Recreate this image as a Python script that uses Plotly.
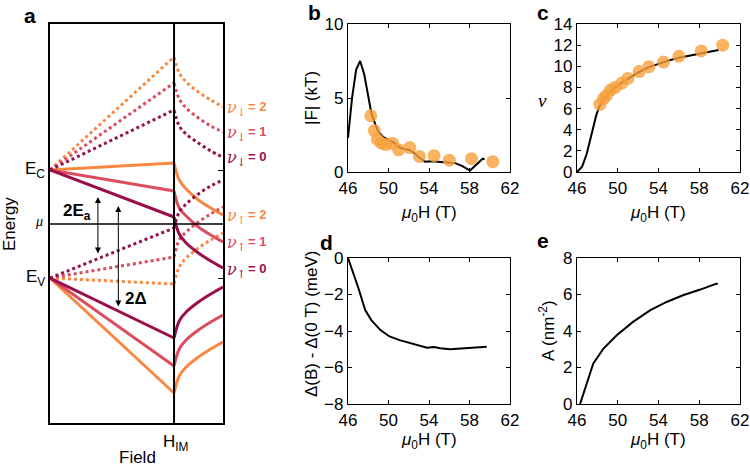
import plotly.graph_objects as go

# ---------------- data ----------------
# panel a (schematic): energies at the start point, at H_IM and along the curve beyond H_IM
xa_left = [0.0, 0.717]
xa_right = [0.717, 0.747, 0.787, 0.858, 0.929, 1.0]
E_C = 54
E_V = -54

cond_solid_mid = {"orange": 61, "pink": 33, "maroon": 7}
cond_solid_right = {"orange": [61, 44, 35, 24, 16, 9],
                    "pink": [33, 16, 8, -3, -11, -18],
                    "maroon": [7, -10, -19, -29, -37, -44]}
cond_dot_mid = {"orange": 167, "pink": 141, "maroon": 114}
cond_dot_right = {"orange": [167, 151, 142, 132, 124, 117],
                  "pink": [141, 125, 116, 106, 98, 92],
                  "maroon": [114, 98, 90, 81, 73, 67]}
val_dot_mid = {"orange": -60, "pink": -33, "maroon": -4}
val_dot_right = {"orange": [-60, -43, -34, -24, -16, -9],
                 "pink": [-33, -16, -8, 2, 10, 17],
                 "maroon": [-4, 12, 20, 30, 38, 44]}
val_solid_mid = {"orange": -169, "pink": -142, "maroon": -114}
val_solid_right = {"orange": [-169, -152, -143, -133, -125, -118],
                   "pink": [-142, -125, -116, -106, -98, -91],
                   "maroon": [-114, -97, -88, -78, -70, -63]}
nu_value = {"orange": "2", "pink": "1", "maroon": "0"}

arrow_Ea = [0.277, 27, -31]      # x, top, bottom
arrow_D = [0.395, 18, -84]

# panel b
b_line_x = [46.0, 46.4, 46.8, 47.2, 47.6, 48.0, 48.3, 48.7, 49.0, 49.5, 50.0, 50.5, 51.0, 51.5, 52.0,
            52.5, 53.0, 53.6, 54.2, 55.2, 55.8, 56.6, 57.3, 58.05, 58.7, 59.3, 59.5]
b_line_y = [2.3, 5.0, 6.9, 7.5, 6.6, 5.0, 4.0, 3.2, 2.7, 2.35, 2.2, 2.0, 1.7, 1.55, 1.5,
            1.3, 1.0, 0.7, 0.72, 0.7, 0.65, 0.6, 0.4, 0.1, 0.5, 0.9, 0.85]
pts_x = [48.25, 48.6, 48.9, 49.3, 49.75, 50.4, 51.0, 52.1, 53.05, 54.5, 56.0, 58.2, 60.3]
b_pts_y = [3.8, 2.8, 2.2, 1.95, 1.85, 1.95, 1.5, 1.65, 1.05, 1.1, 0.8, 0.9, 0.7]

# panel c
c_line_x = [46.0, 46.2, 46.5, 46.95, 47.4, 47.9, 48.2, 48.6, 49.0, 49.5, 50.0, 51.0, 52.0, 53.0,
            54.0, 55.0, 56.0, 57.0, 58.0, 59.0, 59.9]
c_line_y = [0.0, 0.2, 0.5, 1.7, 3.5, 5.4, 6.2, 6.8, 7.3, 7.8, 8.2, 8.8, 9.4, 9.9,
            10.25, 10.55, 10.8, 11.0, 11.2, 11.35, 11.55]
c_pts_y = [6.4, 6.95, 7.25, 7.75, 8.0, 8.4, 8.85, 9.5, 9.95, 10.4, 10.95, 11.45, 12.0]

# panel d
d_x = [46.0, 46.4, 47.0, 47.7, 48.3, 49.2, 50.1, 51.1, 52.5, 53.8, 54.5, 55.1, 56.1, 57.0, 58.0, 59.0, 59.7]
d_y = [0.0, -0.6, -1.6, -2.85, -3.4, -3.95, -4.3, -4.5, -4.72, -4.92, -4.88, -4.95, -5.0, -4.97, -4.92, -4.9, -4.86]

# panel e
e_x = [46.3, 46.95, 47.6, 48.6, 49.9, 51.5, 53.2, 54.8, 56.4, 58.1, 59.7, 59.8]
e_y = [0.0, 1.13, 2.22, 3.04, 3.77, 4.5, 5.14, 5.59, 5.96, 6.27, 6.6, 6.55]

# ---------------- style ----------------
col = {"orange": "#F98740", "pink": "#DA4C5E", "maroon": "#9A0E4C"}
dot_col = "rgba(248,160,60,0.8)"
FONT = "Liberation Sans, Arial, sans-serif"
W = 750
H = 467


def px(v):
    return v / W


def py(v):
    return 1 - v / H


fig = go.Figure()

# panel a traces
for k in ["orange", "pink", "maroon"]:
    for mid, right, start, dash in [(cond_solid_mid, cond_solid_right, E_C, "solid"),
                                    (cond_dot_mid, cond_dot_right, E_C, "3px,3px"),
                                    (val_dot_mid, val_dot_right, E_V, "3px,3px"),
                                    (val_solid_mid, val_solid_right, E_V, "solid")]:
        fig.add_trace(go.Scatter(x=xa_left, y=[start, mid[k]], mode="lines",
                                 line=dict(color=col[k], width=3, dash=dash),
                                 xaxis="x6", yaxis="y6"))
        fig.add_trace(go.Scatter(x=xa_right, y=right[k], mode="lines",
                                 line=dict(color=col[k], width=3, dash=dash, shape="spline", smoothing=1),
                                 xaxis="x6", yaxis="y6"))

# H_IM vertical line and mu line
fig.add_trace(go.Scatter(x=[0.717, 0.717], y=[-199, 200], mode="lines",
                         line=dict(color="black", width=2), xaxis="x6", yaxis="y6"))
fig.add_trace(go.Scatter(x=[0, 1], y=[0, 0], mode="lines",
                         line=dict(color="black", width=1.5), xaxis="x6", yaxis="y6"))

# panels b-e
fig.add_trace(go.Scatter(x=b_line_x, y=b_line_y, mode="lines", line=dict(color="black", width=2),
                         xaxis="x", yaxis="y"))
fig.add_trace(go.Scatter(x=pts_x, y=b_pts_y, mode="markers",
                         marker=dict(color=dot_col, size=13), xaxis="x", yaxis="y"))
fig.add_trace(go.Scatter(x=c_line_x, y=c_line_y, mode="lines", line=dict(color="black", width=2),
                         xaxis="x2", yaxis="y2"))
fig.add_trace(go.Scatter(x=pts_x, y=c_pts_y, mode="markers",
                         marker=dict(color=dot_col, size=13), xaxis="x2", yaxis="y2"))
fig.add_trace(go.Scatter(x=d_x, y=d_y, mode="lines", line=dict(color="black", width=2),
                         xaxis="x3", yaxis="y3"))
fig.add_trace(go.Scatter(x=e_x, y=e_y, mode="lines", line=dict(color="black", width=2),
                         xaxis="x4", yaxis="y4"))

ax_common = dict(showline=True, linecolor="black", linewidth=1.3, mirror="allticks", ticks="inside",
                 ticklen=4, tickcolor="black", showgrid=False, zeroline=False, automargin=False,
                 tickfont=dict(size=17, color="black"))


def xax(dom, anchor):
    return dict(domain=dom, anchor=anchor, range=[46, 62], tickvals=[46, 50, 54, 58, 62], **ax_common)


xb = [px(348), px(510)]
xc = [px(577), px(740)]
ytop = [py(172), py(24)]
ybot = [py(404), py(258)]

fig.update_layout(
    width=W, height=H, margin=dict(l=0, r=0, t=0, b=0),
    paper_bgcolor="white", plot_bgcolor="white", showlegend=False,
    font=dict(family=FONT, color="black"),
    xaxis=xax(xb, "y"),
    yaxis=dict(domain=ytop, anchor="x", range=[0, 10], tickvals=[0, 5, 10], **ax_common),
    xaxis2=xax(xc, "y2"),
    yaxis2=dict(domain=ytop, anchor="x2", range=[0, 14], tickvals=list(range(0, 15, 2)), **ax_common),
    xaxis3=xax(xb, "y3"),
    yaxis3=dict(domain=ybot, anchor="x3", range=[-8, 0], tickvals=[-8, -6, -4, -2, 0], **ax_common),
    xaxis4=xax(xc, "y4"),
    yaxis4=dict(domain=ybot, anchor="x4", range=[0, 8], tickvals=[0, 2, 4, 6, 8], **ax_common),
    xaxis6=dict(domain=[px(50), px(223)], anchor="y6", range=[0, 1], showline=True, linecolor="black",
                linewidth=2, mirror=True, showticklabels=False, ticks="", showgrid=False, zeroline=False,
                automargin=False),
    yaxis6=dict(domain=[py(423), py(24)], anchor="x6", range=[-199, 200], side="right",
                showline=True, linecolor="black", linewidth=2, mirror=True, showticklabels=False,
                tickvals=[E_C, E_V], ticks="inside", ticklen=5, tickcolor="black", showgrid=False,
                zeroline=False, automargin=False),
)


def label(text, x, y, size=17, angle=0, xanchor="center", yref="paper", **kw):
    return dict(text=text, x=x, y=y, xref="paper", yref=yref, textangle=angle, xanchor=xanchor,
                yanchor="middle", showarrow=False, font=dict(size=size, **kw))


ann = []
# panel letters
for txt, lx, ly in [("a", 30, 15), ("b", 314, 13), ("c", 543, 13), ("d", 326, 242), ("e", 543, 240)]:
    ann.append(label("<b>%s</b>" % txt, px(lx), py(ly), size=21))

# axis titles of b-e
xt = "<i>μ</i><sub>0</sub>H (T)"
ann += [
    label(xt, px(429), py(214)), label(xt, px(658), py(214)),
    label(xt, px(429), py(441)), label(xt, px(658), py(441)),
    label("|F| (kT)", px(311), py(98), angle=-90),
    label("<i>ν</i>", px(542), py(100), size=19, family="Liberation Serif"),
    label("Δ(B) - Δ(0 T) (meV)", px(311), py(324), angle=-90),
    label("A (nm<sup>-2</sup>)", px(547), py(331), angle=-90),
]

# panel a labels
ann += [
    label("E<sub>C</sub>", px(47), E_C, xanchor="right", yref="y6"),
    label("<i>μ</i>", px(45), 2, size=14, xanchor="right", yref="y6", family="Liberation Serif"),
    label("E<sub>V</sub>", px(47), E_V, xanchor="right", yref="y6"),
    label("Energy", px(9), py(224), angle=-90),
    label("Field", px(137), py(457)),
    label("H<sub>IM</sub>", px(176), py(443)),
    label("<b>2E<sub>a</sub></b>", px(77), py(212)),
    label("<b>2Δ</b>", px(123), py(298), xanchor="left"),
]
# arrows
for a in [arrow_Ea, arrow_D]:
    ann.append(dict(x=a[0], y=a[1], ax=a[0], ay=a[2], xref="x6", yref="y6", axref="x6", ayref="y6",
                    text="", showarrow=True, arrowhead=2, arrowside="end+start", arrowsize=1.2,
                    arrowwidth=1, arrowcolor="black"))

# nu labels at curve ends
for k in ["orange", "pink", "maroon"]:
    for arr, sub in [(cond_dot_right, "↓"), (cond_solid_right, "↑")]:
        ann.append(label("<i>ν</i><sub>%s</sub>" % sub, px(225), arr[k][-1] - 2, size=16,
                         xanchor="left", yref="y6", color=col[k], family="DejaVu Serif"))
        ann.append(label("<b>= %s</b>" % nu_value[k], px(246), arr[k][-1], size=13,
                         xanchor="left", yref="y6", color=col[k]))

fig.update_layout(annotations=ann)
fig.write_html("out.html", post_script="document.body.style.margin='0';",
               config={"displayModeBar": False})
